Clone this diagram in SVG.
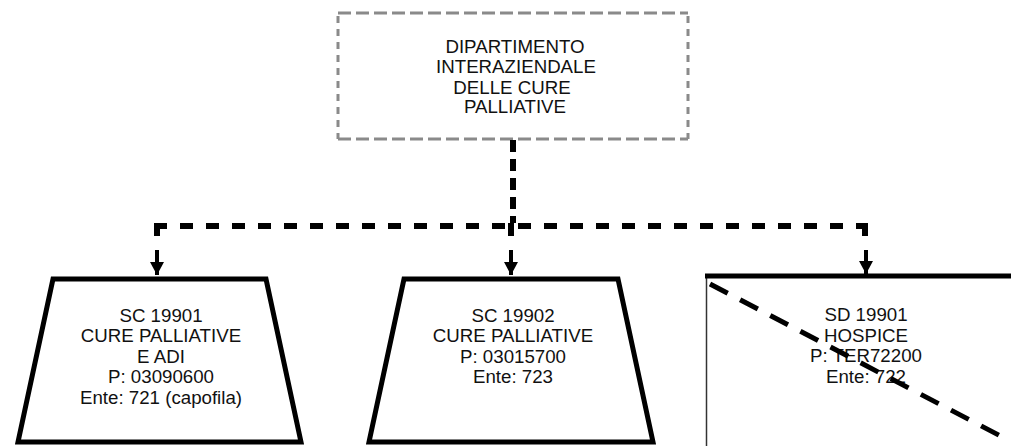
<svg xmlns="http://www.w3.org/2000/svg" width="1011" height="446" viewBox="0 0 1011 446">
<style>
text{font-family:"Liberation Sans",Arial,sans-serif;font-size:18.7px;fill:#111;text-anchor:middle}
.box{fill:#fff;stroke:#000;stroke-width:5;stroke-linejoin:miter}
.dash{stroke:#000;stroke-width:6;fill:none}
.gray{stroke:#8a8a8a;stroke-width:3;fill:none}
</style>
<defs>
<marker id="ah" markerWidth="14" markerHeight="14" refX="13" refY="7" orient="auto" markerUnits="userSpaceOnUse" viewBox="0 0 14 14">
<path d="M0,0 L13,7 L0,14 Z" fill="#000"/>
</marker>
</defs>
<rect width="1011" height="446" fill="#fff"/>
<g id="dept">
<rect x="338" y="13" width="350" height="126" fill="#fff"/>
<line class="gray" x1="338" y1="13" x2="688" y2="13" stroke-dasharray="13 5"/>
<line class="gray" x1="338" y1="139" x2="688" y2="139" stroke-dasharray="13 5"/>
<line class="gray" x1="338" y1="16" x2="338" y2="139" stroke-dasharray="7 6"/>
<line class="gray" x1="688" y1="16" x2="688" y2="139" stroke-dasharray="7 6"/>
<text x="515" y="53">DIPARTIMENTO</text>
<text x="516" y="73">INTERAZIENDALE</text>
<text x="512" y="94">DELLE CURE</text>
<text x="515" y="113">PALLIATIVE</text>
</g>
<g id="connectors">
<line class="dash" x1="513" y1="140" x2="513" y2="223" stroke-dasharray="12 7"/>
<line class="dash" x1="154" y1="226" x2="868" y2="226" stroke-dasharray="13 13"/>
<path class="dash" d="M157,223 V236 M511,223 V236 M865,223 V236"/>
<line x1="157" y1="250" x2="157" y2="275" stroke="#000" stroke-width="4" marker-end="url(#ah)"/>
<line x1="511" y1="250" x2="511" y2="275" stroke="#000" stroke-width="4" marker-end="url(#ah)"/>
<line x1="866" y1="250" x2="866" y2="274" stroke="#000" stroke-width="4" marker-end="url(#ah)"/>
</g>
<g id="sc19901">
<polygon class="box" points="53,279 266,279 301,442 18,442"/>
<text x="161" y="322">SC 19901</text>
<text x="161" y="342">CURE PALLIATIVE</text>
<text x="161" y="363">E ADI</text>
<text x="161" y="383">P: 03090600</text>
<text x="161" y="404">Ente: 721 (capofila)</text>
</g>
<g id="sc19902">
<polygon class="box" points="404,279 618,279 653,442 369,442"/>
<text x="513" y="322">SC 19902</text>
<text x="513" y="342">CURE PALLIATIVE</text>
<text x="513" y="363">P: 03015700</text>
<text x="513" y="383">Ente: 723</text>
</g>
<g id="sd19901">
<rect x="707" y="276" width="310" height="180" fill="#fff"/>
<line x1="706.5" y1="276" x2="706.5" y2="446" stroke="#333" stroke-width="1.5"/>
<line x1="705" y1="276" x2="1011" y2="276" stroke="#000" stroke-width="5"/>
<text x="866" y="321">SD 19901</text>
<text x="866" y="342">HOSPICE</text>
<text x="866" y="362">P: TER72200</text>
<text x="866" y="383">Ente: 722</text>
<line x1="710" y1="284" x2="1010" y2="441" stroke="#000" stroke-width="5" stroke-dasharray="20 14"/>
</g>
</svg>
